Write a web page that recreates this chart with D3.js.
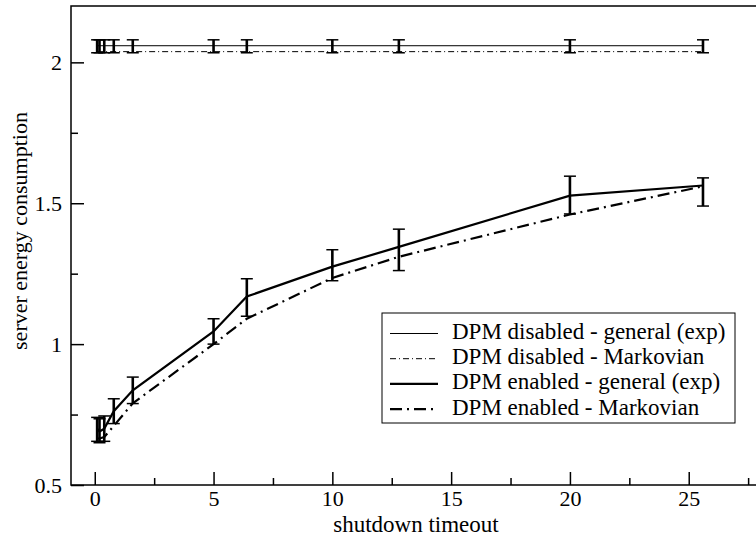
<!DOCTYPE html>
<html><head><meta charset="utf-8">
<script src="https://cdn.jsdelivr.net/npm/d3@7"></script>
<style>body{margin:0;background:#fff}svg{display:block}</style>
</head><body><svg id="c" width="756" height="537"></svg>
<script>
const timeouts = [0.1, 0.2, 0.4, 0.8, 1.6, 5, 6.4, 10, 12.8, 20, 25.6];
const disabledGeneral = [2.059, 2.059, 2.059, 2.059, 2.059, 2.059, 2.059, 2.059, 2.059, 2.059, 2.059];
const disabledGeneralLo = [2.034, 2.034, 2.034, 2.034, 2.034, 2.034, 2.034, 2.034, 2.034, 2.034, 2.034];
const disabledGeneralHi = [2.08, 2.08, 2.08, 2.08, 2.08, 2.08, 2.08, 2.08, 2.08, 2.08, 2.08];
const disabledMarkov = [2.038, 2.038, 2.038, 2.038, 2.038, 2.038, 2.038, 2.038, 2.038, 2.038, 2.038];
const enabledGeneral = [0.70, 0.69, 0.70, 0.762, 0.836, 1.045, 1.169, 1.275, 1.345, 1.527, 1.563];
const enabledGeneralLo = [0.655, 0.65, 0.655, 0.718, 0.789, 1.0, 1.099, 1.225, 1.261, 1.462, 1.49];
const enabledGeneralHi = [0.74, 0.735, 0.745, 0.806, 0.883, 1.09, 1.232, 1.335, 1.408, 1.596, 1.59];
const enabledMarkov = [0.665, 0.665, 0.67, 0.71, 0.79, 1.0, 1.09, 1.235, 1.31, 1.46, 1.56];
const xTicks = [0, 5, 10, 15, 20, 25];
const xMinor = [2.5, 7.5, 12.5, 17.5, 22.5, 27.5];
const yTicks = [0.5, 1, 1.5, 2];
const yMinor = [0.75, 1.25, 1.75];
const legendLabels = ["DPM disabled - general (exp)", "DPM disabled - Markovian", "DPM enabled - general (exp)", "DPM enabled - Markovian"];

const FONT = "'Liberation Serif', 'Times New Roman', serif";
const svg = d3.select("#c");
const L = 71, R = 760, T = 6, B = 485;
const x = d3.scaleLinear().domain([-1, 28]).range([L, R]);
const y = d3.scaleLinear().domain([0.5, 2.2]).range([B, T]);

svg.append("rect").attr("x", L).attr("y", T).attr("width", R - L).attr("height", B - T)
  .attr("fill", "none").attr("stroke", "#000").attr("stroke-width", 1.5);

svg.append("g").attr("transform", `translate(0,${B})`)
  .call(d3.axisBottom(x).tickValues(xTicks).tickSize(-13).tickPadding(5).tickFormat(d3.format("d")));
svg.append("g").attr("transform", `translate(0,${B})`)
  .call(d3.axisBottom(x).tickValues(xMinor).tickSize(-7).tickFormat(""));
svg.append("g").attr("transform", `translate(${L},0)`)
  .call(d3.axisLeft(y).tickValues(yTicks).tickSize(-13).tickPadding(9).tickFormat(d => String(d)));
svg.append("g").attr("transform", `translate(${L},0)`)
  .call(d3.axisLeft(y).tickValues(yMinor).tickSize(-7).tickFormat(""));
svg.selectAll(".domain").remove();
svg.selectAll("g").attr("font-family", FONT).attr("font-size", 22);
svg.selectAll(".tick line").attr("stroke", "#000").attr("stroke-width", 1.5);
svg.selectAll(".tick text").attr("font-family", FONT).attr("font-size", 22).attr("fill", "#000");

svg.append("text").attr("x", 416).attr("y", 532).attr("text-anchor", "middle")
  .attr("font-family", FONT).attr("font-size", 23).text("shutdown timeout");
svg.append("text").attr("transform", "translate(27,231) rotate(-90)").attr("text-anchor", "middle")
  .attr("font-family", FONT).attr("font-size", 22).text("server energy consumption");

const line = (vals) => d3.line().x((d, i) => x(timeouts[i])).y(d => y(d))(vals);

function errBars(lo, hi) {
  const g = svg.append("g");
  timeouts.forEach((t, i) => {
    g.append("line").attr("x1", x(t)).attr("x2", x(t)).attr("y1", y(lo[i])).attr("y2", y(hi[i]))
      .attr("stroke", "#000").attr("stroke-width", 2.6);
    [lo[i], hi[i]].forEach(v => g.append("line").attr("x1", x(t) - 6).attr("x2", x(t) + 6)
      .attr("y1", y(v)).attr("y2", y(v)).attr("stroke", "#000").attr("stroke-width", 1.5));
  });
}

const styles = [
  {w: 1, dash: null},
  {w: 1, dash: "6,3,1,3"},
  {w: 2.2, dash: null},
  {w: 2.2, dash: "12,5,2,5"}
];
const seriesVals = [disabledGeneral, disabledMarkov, enabledGeneral, enabledMarkov];
seriesVals.forEach((vals, k) => {
  svg.append("path").attr("d", line(vals)).attr("fill", "none").attr("stroke", "#000")
    .attr("stroke-width", styles[k].w).attr("stroke-dasharray", styles[k].dash);
});
errBars(disabledGeneralLo, disabledGeneralHi);
errBars(enabledGeneralLo, enabledGeneralHi);

const lg = svg.append("g");
lg.append("rect").attr("x", 382).attr("y", 313).attr("width", 353).attr("height", 110)
  .attr("fill", "#fff").attr("stroke", "#000").attr("stroke-width", 1);
legendLabels.forEach((lab, k) => {
  const cy = 333.5 + k * 25.2;
  lg.append("line").attr("x1", 390).attr("x2", 438).attr("y1", cy).attr("y2", cy)
    .attr("stroke", "#000").attr("stroke-width", styles[k].w).attr("stroke-dasharray", styles[k].dash);
  lg.append("text").attr("x", 452).attr("y", cy + 5.5).attr("font-family", FONT).attr("font-size", 23).attr("fill", "#000").text(lab);
});
</script></body></html>
